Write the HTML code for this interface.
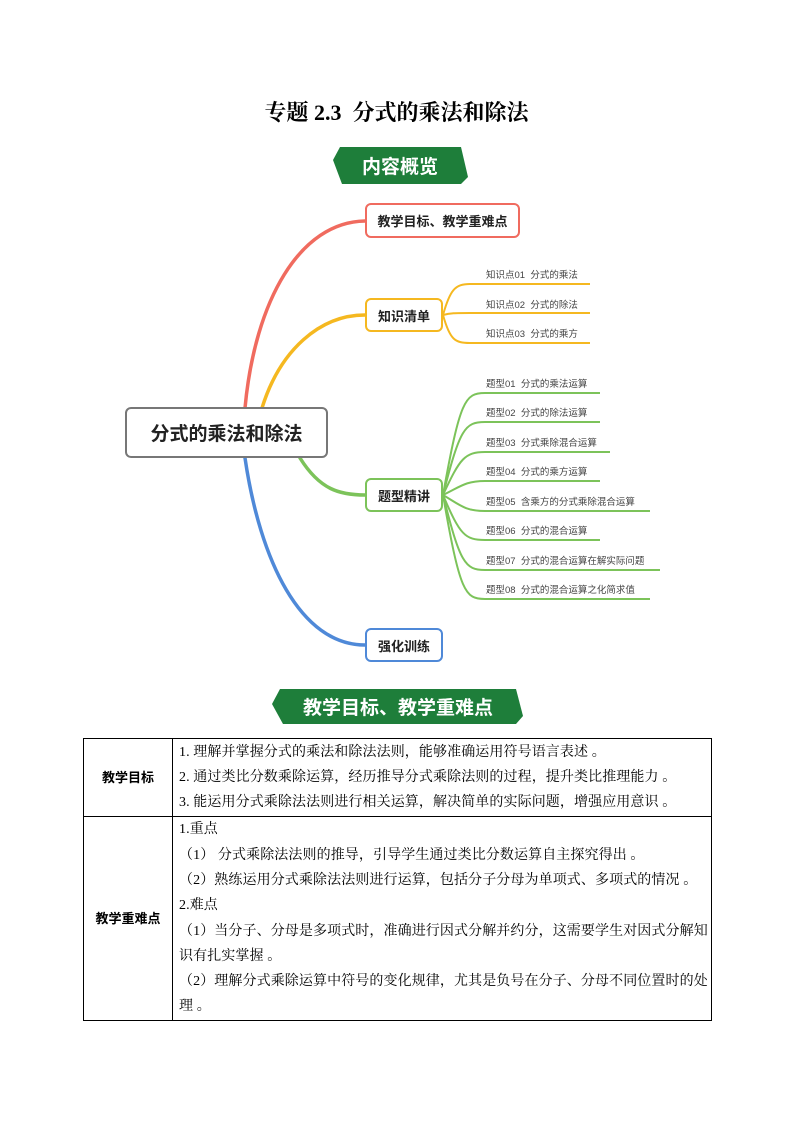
<!DOCTYPE html>
<html><head><meta charset="utf-8"><style>
body{margin:0;width:793px;height:1122px;background:#fff;position:relative;font-family:"Liberation Serif","Noto Serif CJK SC",serif;overflow:hidden}
.a{position:absolute}
.title{left:0;width:793px;top:96px;text-align:center;font-size:22px;font-weight:bold}
.node{position:absolute;box-sizing:border-box;border:2.5px solid;border-radius:6px;background:#fff;font-family:"Liberation Sans","Noto Sans CJK SC",sans-serif;font-weight:bold;display:flex;align-items:center;justify-content:center;color:#222}
.sub{position:absolute;font-family:"Liberation Sans","Noto Sans CJK SC",sans-serif;font-size:9.5px;color:#444;white-space:nowrap}
table{position:absolute;left:83px;top:738px;width:628px;border-collapse:collapse;font-size:14px;table-layout:fixed}
td{border:1px solid #000;padding:0 4px 0 6px;line-height:25.3px;vertical-align:middle;white-space:nowrap;letter-spacing:0.1px;overflow:hidden}
td.h{text-align:center;font-weight:bold;font-family:"Liberation Sans","Noto Sans CJK SC",sans-serif;letter-spacing:0;font-size:13px;padding:0}
</style></head><body>
<div class="a title">专题 2.3&nbsp; 分式的乘法和除法</div>

<svg class="a" style="left:0;top:0" width="793" height="740">
<polygon points="340,147 461,147 468,177 461,184 342,184 333,160" fill="#1e7e3a"/>
<text x="400" y="173" text-anchor="middle" fill="#fff" font-size="19" font-weight="bold" font-family="Liberation Sans,Noto Sans CJK SC,sans-serif">内容概览</text>
<polygon points="280,689 516,689 523,716 516,724 283,724 272,704" fill="#1e7e3a"/>
<text x="398" y="714" text-anchor="middle" fill="#fff" font-size="19" font-weight="bold" font-family="Liberation Sans,Noto Sans CJK SC,sans-serif">教学目标、教学重难点</text>
<g fill="none" stroke-width="3.5" stroke-linecap="round">
<path d="M245,408 C255,300 300,222 365,221" stroke="#f06b5f"/>
<path d="M262,408 C280,350 320,315 365,315" stroke="#f5b820"/>
<path d="M300,458 C320,490 340,495 365,495" stroke="#7cc35a"/>
<path d="M245,458 C260,560 300,645 365,645" stroke="#4f89d8"/>
</g>
<g fill="none" stroke="#f5b820" stroke-width="2">
<path d="M443,315 C450,290 455,284 470,284 L590,284"/>
<path d="M443,315 C450,313 455,313 470,313 L590,313"/>
<path d="M443,315 C450,340 455,343 470,343 L590,343"/>
</g>
<g fill="none" stroke="#7cc35a" stroke-width="2">
<path d="M443,495 C460,400 465,393 485,393 L600,393"/>
<path d="M443,495 C460,428 465,422 485,422 L600,422"/>
<path d="M443,495 C460,458 465,452 485,452 L610,452"/>
<path d="M443,495 C460,487 465,481 485,481 L600,481"/>
<path d="M443,495 C460,505 465,511 485,511 L650,511"/>
<path d="M443,495 C460,535 465,540 485,540 L600,540"/>
<path d="M443,495 C460,563 465,570 485,570 L660,570"/>
<path d="M443,495 C460,593 465,599 485,599 L650,599"/>
</g>
</svg>

<div class="node" style="left:125px;top:407px;width:203px;height:51px;border-color:#777;font-size:19px">分式的乘法和除法</div>
<div class="node" style="left:365px;top:203px;width:155px;height:35px;border-color:#f06b5f;font-size:13px">教学目标、教学重难点</div>
<div class="node" style="left:365px;top:298px;width:78px;height:34px;border-color:#f5b820;font-size:13px">知识清单</div>
<div class="node" style="left:365px;top:478px;width:78px;height:34px;border-color:#7cc35a;font-size:13px">题型精讲</div>
<div class="node" style="left:365px;top:628px;width:78px;height:34px;border-color:#4f89d8;font-size:13px">强化训练</div>

<div class="sub" style="left:486px;top:267px">知识点01&nbsp; 分式的乘法</div>
<div class="sub" style="left:486px;top:297px">知识点02&nbsp; 分式的除法</div>
<div class="sub" style="left:486px;top:326px">知识点03&nbsp; 分式的乘方</div>
<div class="sub" style="left:486px;top:376px">题型01&nbsp; 分式的乘法运算</div>
<div class="sub" style="left:486px;top:405px">题型02&nbsp; 分式的除法运算</div>
<div class="sub" style="left:486px;top:435px">题型03&nbsp; 分式乘除混合运算</div>
<div class="sub" style="left:486px;top:464px">题型04&nbsp; 分式的乘方运算</div>
<div class="sub" style="left:486px;top:494px">题型05&nbsp; 含乘方的分式乘除混合运算</div>
<div class="sub" style="left:486px;top:523px">题型06&nbsp; 分式的混合运算</div>
<div class="sub" style="left:486px;top:553px">题型07&nbsp; 分式的混合运算在解实际问题</div>
<div class="sub" style="left:486px;top:582px">题型08&nbsp; 分式的混合运算之化简求值</div>

<table>
<colgroup><col style="width:89px"><col style="width:539px"></colgroup>
<tr style="height:78px"><td class="h">教学目标</td><td>1. 理解并掌握分式的乘法和除法法则，能够准确运用符号语言表述 。<br>2. 通过类比分数乘除运算，经历推导分式乘除法则的过程，提升类比推理能力 。<br>3. 能运用分式乘除法法则进行相关运算，解决简单的实际问题，增强应用意识 。</td></tr>
<tr style="height:204px"><td class="h">教学重难点</td><td>1.重点<br>（1） 分式乘除法法则的推导，引导学生通过类比分数运算自主探究得出 。<br>（2）熟练运用分式乘除法法则进行运算，包括分子分母为单项式、多项式的情况 。<br>2.难点<br>（1）当分子、分母是多项式时，准确进行因式分解并约分，这需要学生对因式分解知<br>识有扎实掌握 。<br>（2）理解分式乘除运算中符号的变化规律，尤其是负号在分子、分母不同位置时的处<br>理 。</td></tr>
</table>
</body></html>
